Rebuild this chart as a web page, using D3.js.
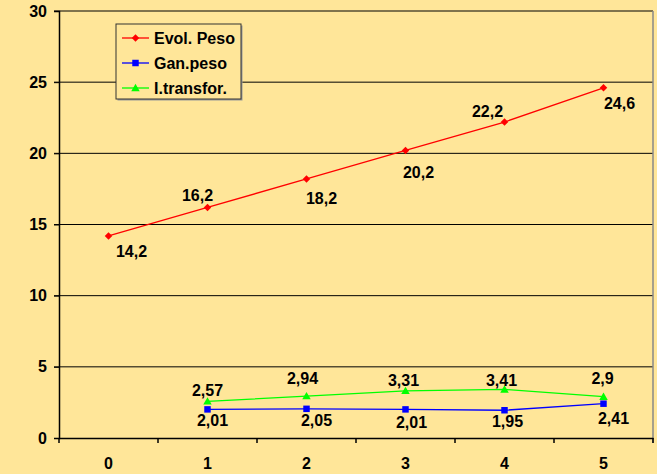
<!DOCTYPE html>
<html>
<head>
<meta charset="utf-8">
<script src="https://cdn.jsdelivr.net/npm/d3@7"></script>
<style>
  body { margin: 0; background: #FFE699; }
  svg { display: block; font-family: "Liberation Sans", Arial, sans-serif; font-weight: bold; }
</style>
</head>
<body>
<svg id="chart" width="657" height="474"></svg>
<script>
// Data
const categories = ["0", "1", "2", "3", "4", "5"];
const evolPeso = [14.2, 16.2, 18.2, 20.2, 22.2, 24.6];
const ganPeso = [null, 2.01, 2.05, 2.01, 1.95, 2.41];
const iTransfor = [null, 2.57, 2.94, 3.31, 3.41, 2.9];
const yTicks = [0, 5, 10, 15, 20, 25, 30];

// Label placement per point: [dx, dy]
const evolLabelPos = [[23, 16], [-10, -12], [15, 19], [13, 22], [-17, -11], [16, 16]];
const ganLabelPos = [null, [5, 11], [10, 12], [6, 13], [3, 11], [10, 15]];
const transLabelPos = [null, [0, -11], [-4, -18], [-2, -10], [-3, -9], [-1, -18]];

const FONT = 16;

// custom diamond / square / triangle markers
const diamond = { draw(ctx, size) { const r = Math.sqrt(size) / 2; ctx.moveTo(0, -r); ctx.lineTo(r, 0); ctx.lineTo(0, r); ctx.lineTo(-r, 0); ctx.closePath(); } };
const square = { draw(ctx, size) { const r = Math.sqrt(size) / 2; ctx.rect(-r, -r, 2 * r, 2 * r); } };
const triangle = { draw(ctx, size) { const r = Math.sqrt(size) / 2; ctx.moveTo(0, -r); ctx.lineTo(r, r * 0.75); ctx.lineTo(-r, r * 0.75); ctx.closePath(); } };

const series = [
    { name: "Evol. Peso", values: evolPeso, color: "#FF0000", symbol: diamond, size: 56, labels: evolLabelPos },
    { name: "Gan.peso", values: ganPeso, color: "#0000FF", symbol: square, size: 42, labels: ganLabelPos },
    { name: "I.transfor.", values: iTransfor, color: "#00FF00", symbol: triangle, size: 72, labels: transLabelPos }
];

const margin = { top: 11, right: 4, bottom: 36, left: 59 };
const width = 657 - margin.left - margin.right;
const height = 474 - margin.top - margin.bottom;

const svg = d3.select("#chart")
    .append("g")
    .attr("transform", "translate(" + margin.left + "," + margin.top + ")");

const x = d3.scaleBand().domain(categories).range([0, width]);
const y = d3.scaleLinear().domain([0, 30]).range([height, 0]);

// Gridlines
svg.selectAll(".grid")
    .data(yTicks.filter(d => d > 0))
    .enter().append("line")
    .attr("x1", -5)
    .attr("x2", width)
    .attr("y1", d => y(d))
    .attr("y2", d => y(d))
    .attr("stroke", "#000")
    .attr("stroke-width", 1);

// Right border
svg.append("line")
    .attr("x1", width).attr("x2", width)
    .attr("y1", 0).attr("y2", height + 5)
    .attr("stroke", "#888").attr("stroke-width", 1.5);

// Y axis
const yAxis = svg.append("g")
    .call(d3.axisLeft(y).tickValues(yTicks).tickSize(5).tickPadding(7));
yAxis.select(".domain").attr("stroke", "#000").attr("stroke-width", 1.5);
yAxis.selectAll("text").attr("font-size", FONT).attr("fill", "#000")
    .attr("font-family", "Liberation Sans, Arial, sans-serif").attr("font-weight", "bold");

// X axis
const xAxis = svg.append("g")
    .attr("transform", "translate(0," + height + ")")
    .call(d3.axisBottom(x).tickSize(0).tickPadding(20));
xAxis.select(".domain").attr("stroke", "#000").attr("stroke-width", 1.5);
xAxis.selectAll("text").attr("font-size", FONT).attr("fill", "#000")
    .attr("font-family", "Liberation Sans, Arial, sans-serif").attr("font-weight", "bold");
xAxis.selectAll(".bound")
    .data(d3.range(categories.length + 1))
    .enter().append("line")
    .attr("x1", i => i * x.step()).attr("x2", i => i * x.step())
    .attr("y1", 0).attr("y2", 5)
    .attr("stroke", "#000").attr("stroke-width", 1.5);

const cx = i => x(categories[i]) + x.bandwidth() / 2;

// Lines, markers and labels
series.forEach(s => {
    const pts = s.values.map((v, i) => ({ v, i })).filter(d => d.v !== null);
    const line = d3.line().x(d => cx(d.i)).y(d => y(d.v));
    svg.append("path")
        .datum(pts)
        .attr("d", line)
        .attr("fill", "none")
        .attr("stroke", s.color)
        .attr("stroke-width", 1.3);
    svg.selectAll(null)
        .data(pts)
        .enter().append("path")
        .attr("d", d3.symbol().type(s.symbol).size(s.size))
        .attr("transform", d => "translate(" + cx(d.i) + "," + y(d.v) + ")")
        .attr("fill", s.color);
    svg.selectAll(null)
        .data(pts)
        .enter().append("text")
        .attr("x", d => cx(d.i) + s.labels[d.i][0])
        .attr("y", d => y(d.v) + s.labels[d.i][1])
        .attr("dy", "0.35em")
        .attr("text-anchor", "middle")
        .attr("font-size", FONT)
        .attr("fill", "#000")
        .text(d => String(d.v).replace(".", ","));
});

// Legend
const legend = d3.select("#chart").append("g")
    .attr("transform", "translate(116,24)");
legend.append("rect")
    .attr("x", 1.5).attr("y", 1.5)
    .attr("width", 125).attr("height", 75)
    .attr("fill", "#999");
legend.append("rect")
    .attr("width", 125).attr("height", 75)
    .attr("fill", "#FFE699")
    .attr("stroke", "#333").attr("stroke-width", 1);
series.forEach((s, i) => {
    const gy = 14 + i * 25;
    legend.append("line")
        .attr("x1", 6).attr("x2", 33)
        .attr("y1", gy).attr("y2", gy)
        .attr("stroke", s.color).attr("stroke-width", 1.3);
    legend.append("path")
        .attr("d", d3.symbol().type(s.symbol).size(s.size))
        .attr("transform", "translate(19.5," + gy + ")")
        .attr("fill", s.color);
    legend.append("text")
        .attr("x", 38).attr("y", gy)
        .attr("dy", "0.36em")
        .attr("font-size", FONT)
        .attr("fill", "#000")
        .text(s.name);
});
</script>
</body>
</html>
